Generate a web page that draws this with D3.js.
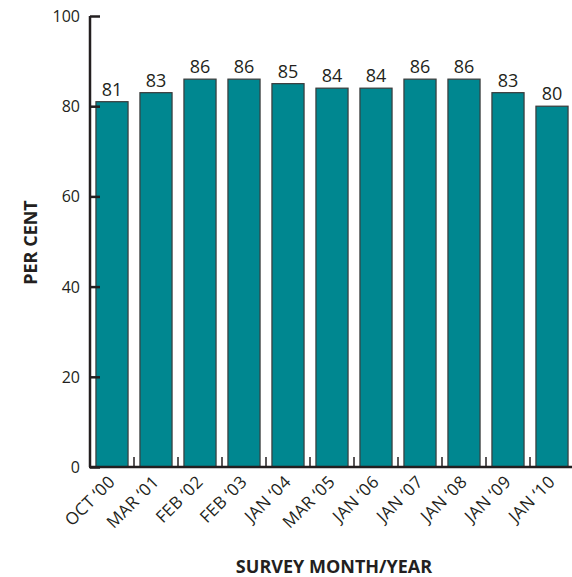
<!DOCTYPE html>
<html>
<head>
<meta charset="utf-8">
<script src="https://cdn.jsdelivr.net/npm/d3@7"></script>
<style>
  body { margin: 0; background: #fff; }
  text { font-family: "Open Sans", "DejaVu Sans", sans-serif; fill: #231f20; }
</style>
</head>
<body>
<div id="chart"></div>
<script>
const surveys = ["OCT '00", "MAR '01", "FEB '02", "FEB '03", "JAN '04", "MAR '05",
                 "JAN '06", "JAN '07", "JAN '08", "JAN '09", "JAN '10"];
const perCent = [81, 83, 86, 86, 85, 84, 84, 86, 86, 83, 80];
const yTicks = [0, 20, 40, 60, 80, 100];

const width = 572, height = 577;
const plotLeft = 90, plotRight = 574, plotTop = 16, plotBottom = 467;

const svg = d3.select("#chart").append("svg")
    .attr("width", width)
    .attr("height", height);

const x = d3.scaleBand()
    .domain(surveys)
    .range([plotLeft, plotRight])
    .paddingInner(0.27)
    .paddingOuter(0.135);

const y = d3.scaleLinear()
    .domain([0, 100])
    .range([plotBottom, plotTop]);

// bars
svg.selectAll("rect.bar")
    .data(perCent)
    .enter()
    .append("rect")
    .attr("class", "bar")
    .attr("x", (d, i) => x(surveys[i]))
    .attr("y", d => y(d))
    .attr("width", x.bandwidth())
    .attr("height", d => y(0) - y(d))
    .attr("fill", "#008790")
    .attr("stroke", "#3a3a3a")
    .attr("stroke-width", 1.2);

// value labels
svg.selectAll("text.val")
    .data(perCent)
    .enter()
    .append("text")
    .attr("class", "val")
    .attr("x", (d, i) => x(surveys[i]) + x.bandwidth() / 2)
    .attr("y", d => y(d) - 6)
    .attr("text-anchor", "middle")
    .style("font-size", "18px")
    .text(d => d);

// y axis
const yAxis = svg.append("g")
    .attr("transform", `translate(${plotLeft},0)`)
    .call(d3.axisRight(y).tickValues(yTicks).tickSize(10).tickFormat(""));
yAxis.select(".domain").attr("d", `M0,${plotTop}V${plotBottom}`);
yAxis.selectAll("line, path").attr("stroke", "#231f20").attr("stroke-width", 2.5);

svg.selectAll("text.ytick")
    .data(yTicks)
    .enter()
    .append("text")
    .attr("class", "ytick")
    .attr("x", plotLeft - 10)
    .attr("y", d => y(d) + 6)
    .attr("text-anchor", "end")
    .style("font-size", "16px")
    .text(d => d);

// x axis with ticks at band boundaries
const bounds = surveys.slice(1).map(s => x(s) - x.step() * x.paddingInner() / 2);
const xAxis = svg.append("g");
xAxis.append("line")
    .attr("x1", plotLeft - 1).attr("x2", plotRight)
    .attr("y1", plotBottom).attr("y2", plotBottom)
    .attr("stroke", "#231f20").attr("stroke-width", 2.5);
xAxis.selectAll("line.tick")
    .data(bounds)
    .enter()
    .append("line")
    .attr("class", "tick")
    .attr("x1", d => d).attr("x2", d => d)
    .attr("y1", plotBottom).attr("y2", plotBottom - 10)
    .attr("stroke", "#231f20").attr("stroke-width", 1.5);

svg.selectAll("text.xtick")
    .data(surveys)
    .enter()
    .append("text")
    .attr("class", "xtick")
    .attr("transform", d => `translate(${x(d) + x.bandwidth() / 2 + 4},${plotBottom + 16}) rotate(-45)`)
    .attr("text-anchor", "end")
    .style("font-size", "17px")
    .style("letter-spacing", "0.3px")
    .text(d => d.replace(" '", " \u2018"));

// axis titles
svg.append("text")
    .attr("transform", `translate(37,${(plotTop + plotBottom) / 2 + 1}) rotate(-90)`)
    .attr("text-anchor", "middle")
    .style("font-size", "18px")
    .style("font-weight", "bold")
    .text("PER CENT");

svg.append("text")
    .attr("x", 334)
    .attr("y", 573)
    .attr("text-anchor", "middle")
    .style("font-size", "18px")
    .style("font-weight", "bold")
    .text("SURVEY MONTH/YEAR");
</script>
</body>
</html>
